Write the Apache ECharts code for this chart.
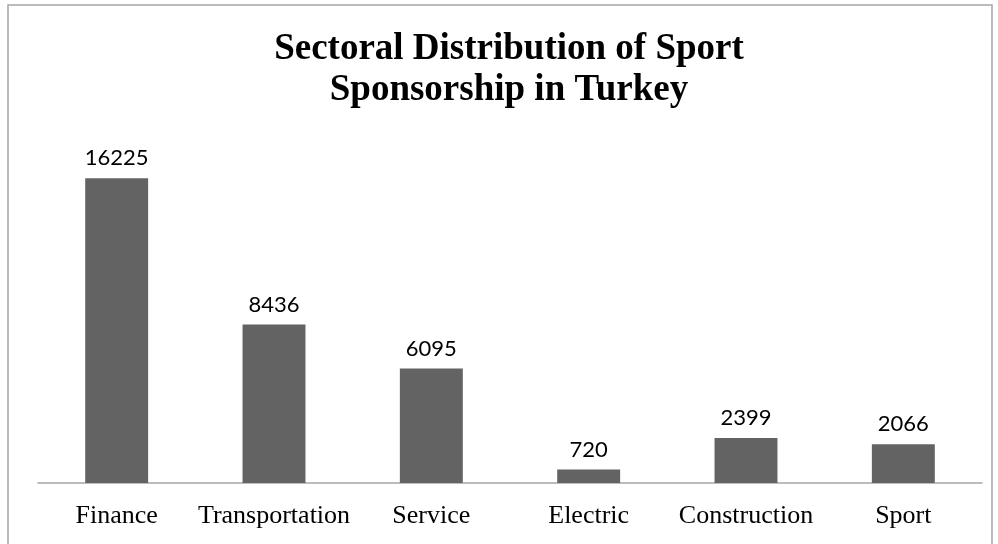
<!DOCTYPE html>
<html>
<head>
<meta charset="utf-8">
<script src="https://cdn.jsdelivr.net/npm/echarts@6/dist/echarts.min.js"></script>
<style>html,body{margin:0;padding:0;background:#fff}#c{width:998px;height:544px}</style>
</head>
<body>
<div id="c"></div>
<script>
const titleText = 'Sectoral Distribution of Sport\nSponsorship in Turkey';
const categories = ['Finance', 'Transportation', 'Service', 'Electric', 'Construction', 'Sport'];
const values = [16225, 8436, 6095, 720, 2399, 2066];

const chart = echarts.init(document.getElementById('c'), null, {renderer: 'canvas'});
chart.setOption({
  animation: false,
  backgroundColor: '#ffffff',
  title: {
    text: titleText,
    left: 509,
    top: 29,
    padding: 0,
    textAlign: 'center',
    textStyle: {
      fontFamily: 'Liberation Serif',
      fontWeight: 'bold',
      fontSize: 37,
      lineHeight: 41,
      color: '#000'
    }
  },
  graphic: [{
    type: 'rect',
    shape: {x: 8, y: 5, width: 984, height: 560},
    style: {fill: 'none', stroke: '#a6a6a6', lineWidth: 1.5},
    silent: true
  }],
  grid: {left: 38, right: 16, top: 145, bottom: 61, containLabel: false},
  xAxis: {
    type: 'category',
    data: categories,
    axisLine: {lineStyle: {color: '#a6a6a6', width: 1.5}},
    axisTick: {show: false},
    axisLabel: {
      fontFamily: 'Liberation Serif',
      fontSize: 26,
      color: '#000',
      margin: 20,
      interval: 0
    }
  },
  yAxis: {
    type: 'value',
    min: 0,
    max: 18000,
    show: false,
    splitLine: {show: false}
  },
  series: [{
    type: 'bar',
    data: values,
    barWidth: '40%',
    itemStyle: {color: '#636363'},
    label: {
      show: true,
      position: 'top',
      distance: 9,
      fontFamily: 'Lato',
      fontSize: 22,
      color: '#000'
    }
  }]
});
</script>
</body>
</html>
